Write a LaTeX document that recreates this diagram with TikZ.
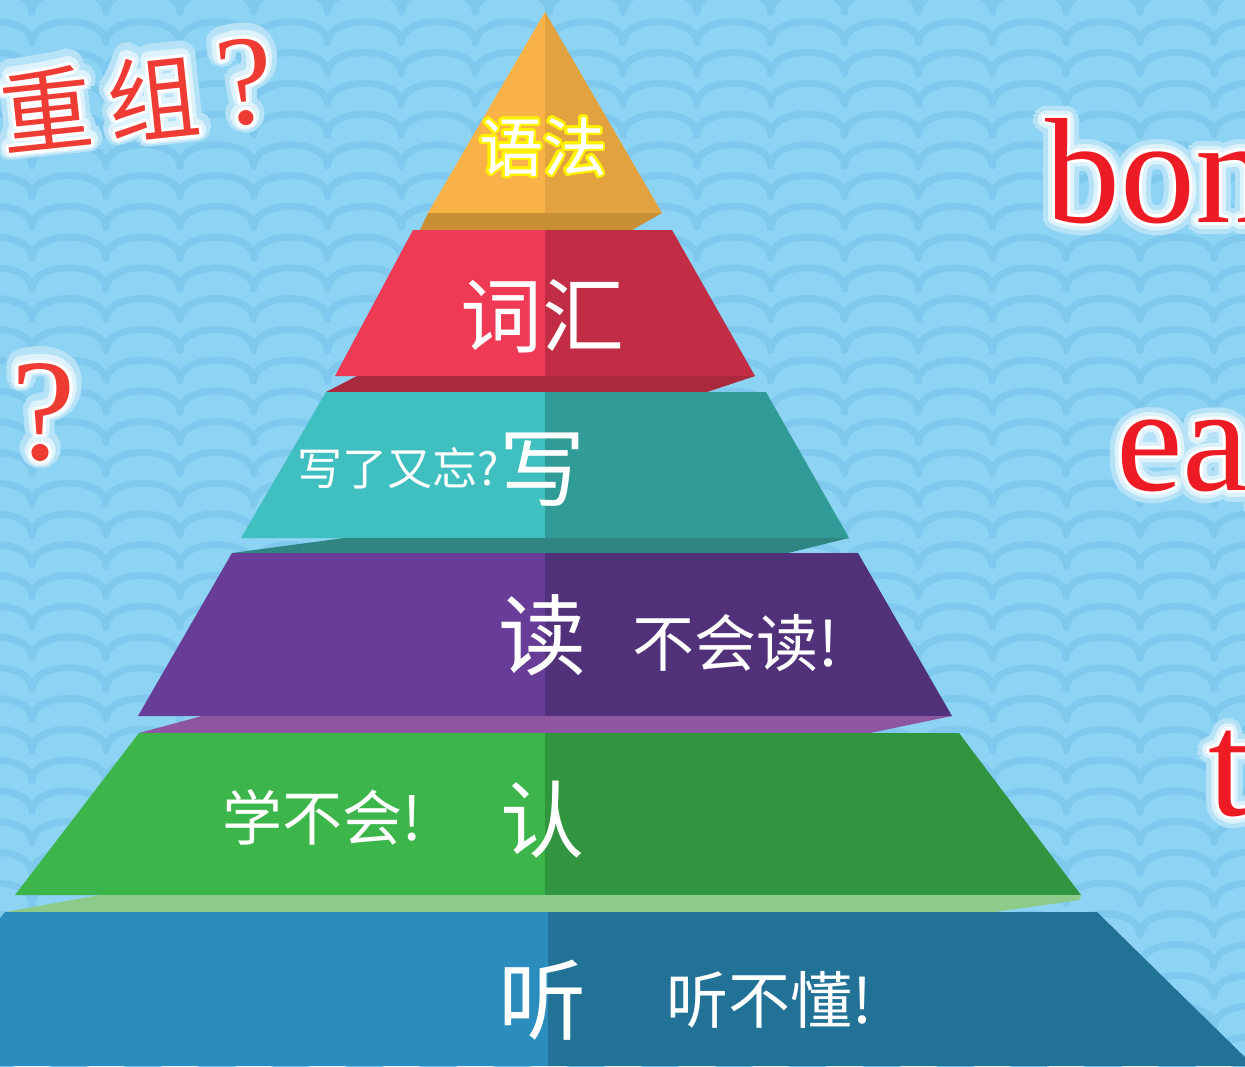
\documentclass[tikz,border=0pt]{standalone}
\usepackage{fontspec}
\setmainfont{Liberation Serif}
\newfontfamily\cjk{Noto Sans CJK SC}
\usepackage{contour}
\contournumber{20}

\definecolor{sky}{HTML}{8DD3F3}
\definecolor{skywave}{HTML}{80C9EE}
\definecolor{inkred}{HTML}{ED1C24}
\definecolor{cjkred}{HTML}{EE3B33}
\definecolor{orangeL}{HTML}{F9B248}
\definecolor{orangeR}{HTML}{E2A23F}
\definecolor{orangeB}{HTML}{C98F35}
\definecolor{redL}{HTML}{EE3A55}
\definecolor{redR}{HTML}{C12D45}
\definecolor{redB}{HTML}{A82A3C}
\definecolor{tealL}{HTML}{3FBFBF}
\definecolor{tealR}{HTML}{319B98}
\definecolor{tealB}{HTML}{2E8582}
\definecolor{purpL}{HTML}{673D97}
\definecolor{purpR}{HTML}{51317A}
\definecolor{purpB}{HTML}{8E56A0}
\definecolor{greenL}{HTML}{3CB54A}
\definecolor{greenR}{HTML}{31943E}
\definecolor{greenB}{HTML}{8DCB8B}
\definecolor{blueL}{HTML}{2A8DBE}
\definecolor{blueR}{HTML}{217296}
\colorlet{glowfar}{sky!65!white}
\colorlet{glownear}{sky!30!white}

\newcommand\halo[3]{\contourlength{#1}\contour{#2}{#3}}
\newcommand\cjksize[1]{\cjk\fontsize{#1}{#1}\selectfont}
\newcommand\romsize[1]{\fontsize{#1}{#1}\selectfont}
\newcommand\regroup{重\hspace{16pt}组\hspace{18pt}{\rmfamily\romsize{128}?}}

\tikzset{
  wave/.style={draw=skywave, line width=7pt, line cap=round},
  layerword/.style={text=white, inner sep=0pt},
  glowword/.style={text=inkred, inner sep=0pt},
}

\begin{document}
\begin{tikzpicture}[x=1pt,y=-1pt]
\useasboundingbox (0,0) rectangle (1245,1066);
\clip (0,0) rectangle (1245,1066);
\fill[sky] (0,0) rectangle (1245,1066);
% scalloped background
\foreach \j in {0,...,35}
  \foreach \k in {-1,...,16}
    \draw[wave] ({32+73.87*\k},{12+30.76*\j}) .. controls +(0,-28) and +(0,-28) .. ({105.87+73.87*\k},{12+30.76*\j});

% top: grammar
\fill[orangeL] (545,12) -- (428,213) -- (545,213) -- cycle;
\fill[orangeR] (545,12) -- (662,213) -- (545,213) -- cycle;
\fill[orangeB] (428,213) -- (662,213) -- (632,230) -- (420,230) -- cycle;
% vocabulary
\fill[redL] (413,230) -- (545,230) -- (545,376) -- (335,376) -- cycle;
\fill[redR] (545,230) -- (672,230) -- (755,376) -- (545,376) -- cycle;
\fill[redB] (357,376) -- (755,376) -- (707,392) -- (326,392) -- cycle;
% writing
\fill[tealL] (326,392) -- (545,392) -- (545,538) -- (241,538) -- cycle;
\fill[tealR] (545,392) -- (766,392) -- (849,538) -- (545,538) -- cycle;
\fill[tealB] (344,538) -- (849,538) -- (788,553) -- (232,553) -- cycle;
% reading
\fill[purpL] (232,553) -- (545,553) -- (545,716) -- (138,716) -- cycle;
\fill[purpR] (545,553) -- (858,553) -- (952,716) -- (545,716) -- cycle;
\fill[purpB] (202,716) -- (952,716) -- (870,733) -- (139,733) -- cycle;
% recognising
\fill[greenL] (139,733) -- (545,733) -- (545,895) -- (15,895) -- cycle;
\fill[greenR] (545,733) -- (959,733) -- (1081,895) -- (545,895) -- cycle;
\fill[greenB] (100,895) -- (1081,895) -- (1080,900) -- (995,912) -- (5,912) -- cycle;
% listening
\fill[blueL] (5,912) -- (548,912) -- (548,1066) -- (-113,1066) -- cycle;
\fill[blueR] (548,912) -- (1097,912) -- (1254,1066) -- (548,1066) -- cycle;

% layer labels
\node[layerword, font=\cjksize{64}] (grammar) at (543,148) {\halo{2.5pt}{yellow}{语法}};
\node[layerword, font=\cjksize{82}] (vocab) at (542,316) {词汇};
\node[layerword, font=\cjksize{86}] (write) at (542,470) {写};
\node[layerword, font=\cjksize{45}, anchor=east] (forget) at (499,468) {写了又忘?};
\node[layerword, font=\cjksize{88}] (read) at (542,635) {读};
\node[layerword, font=\cjksize{62}, anchor=west] (cantread) at (632,643) {不会读!};
\node[layerword, font=\cjksize{84}] (recog) at (542,820) {认};
\node[layerword, font=\cjksize{60}, anchor=east] (cantlearn) at (422,817) {学不会!};
\node[layerword, font=\cjksize{88}] (listen) at (542,1000) {听};
\node[layerword, font=\cjksize{62}, anchor=west] (cantlisten) at (666,1000) {听不懂!};

% glowing red words
\foreach \r/\c in {12pt/glowfar, 7pt/glownear, 3pt/white}{
  \node[glowword, text=cjkred, font=\cjksize{92}, rotate=6] at (137,97) {\halo{\r}{\c}{\regroup}};
  \node[glowword, text=cjkred, font=\romsize{145}] at (44,414) {\halo{\r}{\c}{?}};
  \node[glowword, font=\romsize{150}, anchor=base west] at (1045,222) {\halo{\r}{\c}{bon}};
  \node[glowword, font=\romsize{150}, anchor=base west] at (1116,490) {\halo{\r}{\c}{eag}};
  \node[glowword, font=\romsize{150}, anchor=base west] at (1208,815) {\halo{\r}{\c}{t}};
}
\end{tikzpicture}
\end{document}
